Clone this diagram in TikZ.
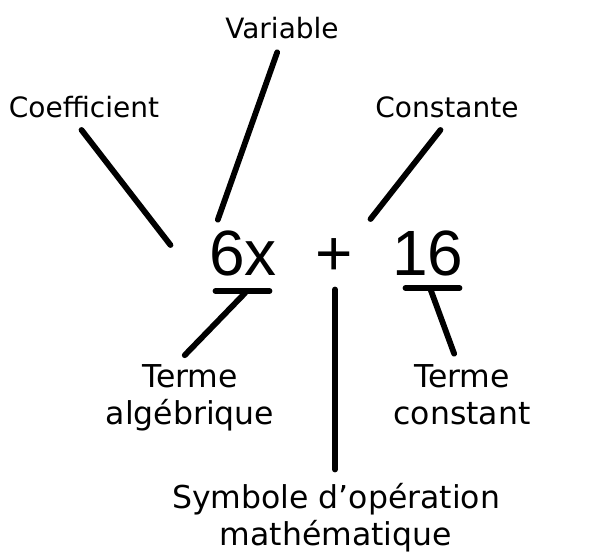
\documentclass[tikz,border=0pt]{standalone}
\usepackage{fontspec}
\setmainfont{DejaVu Sans}
\newfontfamily\eqfont{Liberation Sans}
\begin{document}
\begin{tikzpicture}[x=1pt,y=-1pt,
  toplab/.style={inner sep=0pt,anchor=base,font=\fontsize{28}{33}\selectfont},
  botlab/.style={inner sep=0pt,anchor=north,align=center,font=\fontsize{31.5}{37}\selectfont},
  eqpart/.style={inner sep=0pt,anchor=base,font=\eqfont\fontsize{64}{64}\selectfont},
  conn/.style={line width=5.8pt,black,line cap=round,shorten <=2.5pt,shorten >=2.5pt}]
\useasboundingbox (0,0) rectangle (605,554);
% equation
\node[eqpart] (sixx) at (243,275) {6x};
\node[eqpart] (plus) at (334,275) {+};
\node[eqpart] (sixteen) at (428,275) {16};
% labels
\node[toplab] (var) at (282,38) {Variable};
\node[toplab] (coef) at (84,117) {Coefficient};
\node[toplab] (const) at (447,117) {Constante};
\node[botlab] (alg) at (190,364) {Terme\\algébrique};
\node[botlab] (tconst) at (462,364) {Terme\\constant};
\node[botlab] (symb) at (336,483) {Symbole d’opération\\mathématique};
% connector end points
\coordinate (coefA) at (80,128);
\coordinate (coefB) at (172,247);
\coordinate (varA) at (278,50);
\coordinate (varB) at (217,222);
\coordinate (constA) at (442,128);
\coordinate (constB) at (369,221);
\coordinate (ulA1) at (213,291);
\coordinate (ulA2) at (272,291);
\coordinate (ulB1) at (403,288);
\coordinate (ulB2) at (462,288);
\coordinate (algA) at (247,291);
\coordinate (algB) at (183,357);
\coordinate (plusA) at (335,287);
\coordinate (plusB) at (335,472);
\coordinate (tcA) at (430,288);
\coordinate (tcB) at (455,356);
% connectors
\draw[conn] (coefA) -- (coefB);
\draw[conn] (varA) -- (varB);
\draw[conn] (constA) -- (constB);
\draw[conn] (ulA1) -- (ulA2);
\draw[conn] (ulB1) -- (ulB2);
\draw[conn] (algA) -- (algB);
\draw[conn] (plusA) -- (plusB);
\draw[conn] (tcA) -- (tcB);
\end{tikzpicture}
\end{document}
